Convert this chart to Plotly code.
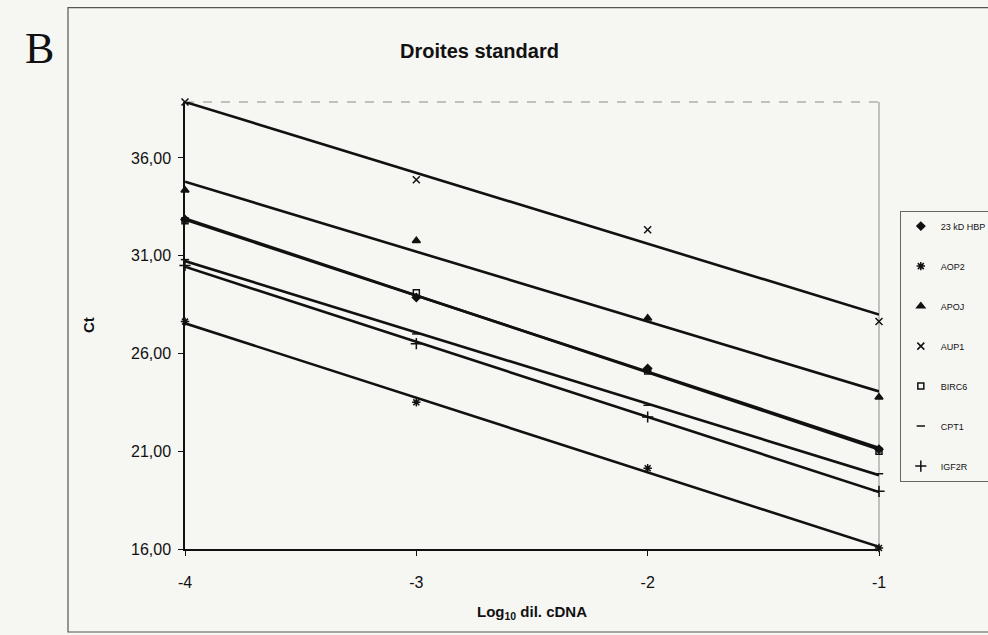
import numpy as np
import plotly.graph_objects as go

# Standard curves: Ct versus log10 of the cDNA dilution
log_dil = [-4, -3, -2, -1]

genes = ["23 kD HBP", "AOP2", "APOJ", "AUP1", "BIRC6", "CPT1", "IGF2R"]

ct_hbp23 = [32.85, 28.86, 25.23, 21.10]
ct_aop2 = [27.63, 23.50, 20.13, 16.05]
ct_apoj = [34.35, 31.77, 27.80, 23.76]
ct_aup1 = [38.86, 34.88, 32.33, 27.63]
ct_birc6 = [32.79, 29.11, 25.10, 21.00]
ct_cpt1 = [30.80, 27.00, 23.35, 19.85]
ct_igf2r = [30.50, 26.50, 22.75, 18.95]

y_ticks = [16, 21, 26, 31, 36]
y_tick_text = ["16,00", "21,00", "26,00", "31,00", "36,00"]
x_ticks = [-4, -3, -2, -1]
x_tick_text = ["-4", "-3", "-2", "-1"]

series = [ct_hbp23, ct_aop2, ct_apoj, ct_aup1, ct_birc6, ct_cpt1, ct_igf2r]
symbols = ["diamond", "asterisk-open", "triangle-up", "x-thin-open",
           "square-open", "line-ew-open", "cross-thin-open"]
sizes = [6, 7, 7, 7, 6, 6, 8]

FONT = "Liberation Sans, Arial, sans-serif"
INK = "#111111"
BG = "#f6f6f3"

fig = go.Figure()

# Linear trend line for each gene across the full dilution range
x_fit = np.array([log_dil[0], log_dil[-1]], dtype=float)
for ct in series:
    slope, intercept = np.polyfit(log_dil, ct, 1)
    fig.add_trace(go.Scatter(
        x=x_fit, y=slope * x_fit + intercept, mode="lines",
        line=dict(color=INK, width=2.6), showlegend=False,
        hoverinfo="skip", cliponaxis=False,
    ))

# Measured points
for name, ct, sym, sz in zip(genes, series, symbols, sizes):
    fig.add_trace(go.Scatter(
        x=log_dil, y=ct, mode="markers", name=name, legendgroup=name,
        marker=dict(symbol=sym, size=sz, color=INK,
                    line=dict(color=INK, width=1.5)),
        cliponaxis=False,
    ))

fig.update_layout(
    width=988, height=635,
    margin=dict(l=185, r=109, t=102, b=86, autoexpand=False),
    paper_bgcolor=BG, plot_bgcolor=BG,
    font=dict(family=FONT, color=INK),
    showlegend=True,
    legend=dict(
        x=1.03, y=0.757, xanchor="left", yanchor="top",
        bgcolor=BG, bordercolor="#666666", borderwidth=1,
        font=dict(size=9, family=FONT, color=INK),
        tracegroupgap=21, itemwidth=30,
    ),
    xaxis=dict(
        range=[-4, -1], tickvals=x_ticks, ticktext=x_tick_text,
        showgrid=False, zeroline=False, showline=True,
        linecolor=INK, linewidth=1.5, ticks="outside", ticklen=5,
        tickcolor=INK, tickfont=dict(size=16), ticklabelstandoff=13,
    ),
    yaxis=dict(
        range=[16, 38.86], tickvals=y_ticks, ticktext=y_tick_text,
        showgrid=False, zeroline=False, showline=True,
        linecolor=INK, linewidth=1.5, ticks="outside", ticklen=5,
        tickcolor=INK, tickfont=dict(size=16), ticklabelstandoff=4,
    ),
    shapes=[
        # outer chart frame
        dict(type="rect", xref="paper", yref="paper",
             x0=-0.1686, x1=1.3, y0=-0.1857, y1=1.211,
             line=dict(color="#555555", width=1.2), layer="below"),
        # plot-area border (top and right)
        dict(type="line", xref="paper", yref="paper",
             x0=0, x1=1, y0=1, y1=1,
             line=dict(color="#8a8a8a", width=1, dash="dash"), layer="below"),
        dict(type="line", xref="paper", yref="paper",
             x0=1, x1=1, y0=0, y1=1,
             line=dict(color="#8a8a8a", width=1), layer="below"),
    ],
    annotations=[
        dict(text="<b>Droites standard</b>", xref="paper", yref="paper",
             x=0.424, y=1.113, xanchor="center", yanchor="middle",
             showarrow=False, font=dict(size=20, family=FONT, color=INK)),
        dict(text="B", xref="paper", yref="paper",
             x=-0.21, y=1.12, xanchor="center", yanchor="middle",
             showarrow=False,
             font=dict(size=44, family="Liberation Serif, Times New Roman, serif",
                       color=INK)),
        dict(text="<b>Ct</b>", xref="paper", yref="paper",
             x=-0.139, y=0.5, xanchor="center", yanchor="middle",
             textangle=-90, showarrow=False,
             font=dict(size=15, family=FONT, color=INK)),
        dict(text="<b>Log<sub>10</sub> dil. cDNA</b>", xref="paper", yref="paper",
             x=0.5, y=-0.143, xanchor="center", yanchor="middle",
             showarrow=False, font=dict(size=15, family=FONT, color=INK)),
    ],
)

fig.write_html("out.html")
